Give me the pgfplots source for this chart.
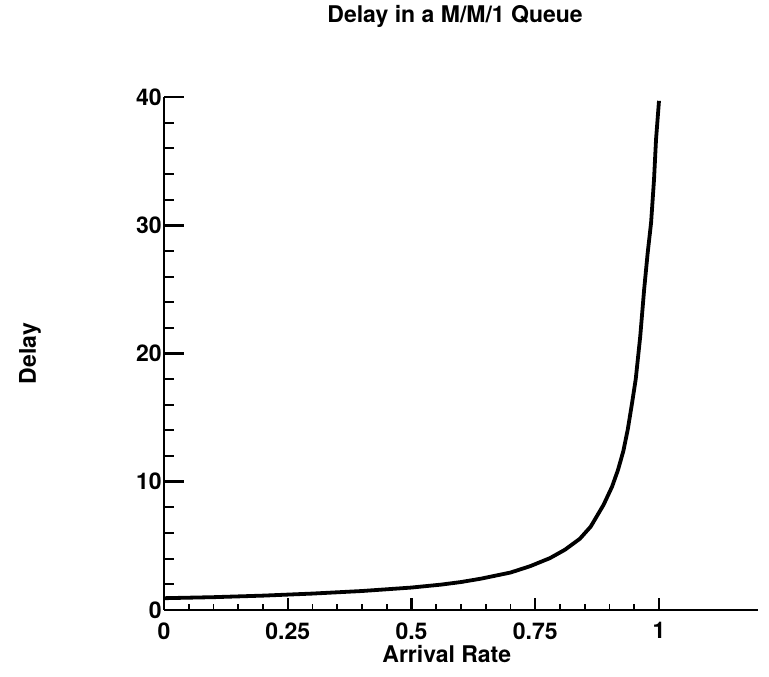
\documentclass[border=0pt]{standalone}
\usepackage{pgfplots}
\pgfplotsset{compat=1.18}
\usepackage{fontspec}
\setmainfont{TeX Gyre Heros}
\begin{document}
\begin{tikzpicture}
\pgfplotsset{
  common/.style={
    scale only axis, width=297pt, height=256.5pt,
    xmin=0, xmax=1.2, ymin=0, ymax=40,
    xtick={0,0.25,0.5,0.75,1},
    ytick={0,10,20,30,40},
    minor x tick num=4, minor y tick num=4,
    /pgf/number format/assume math mode=true,
    every tick/.append style={black},
  }
}
\begin{axis}[common,
  axis x line=bottom, axis y line=left,
  tick align=inside,
  x axis line style={-, line width=1.4pt},
  y axis line style={-, line width=1.4pt},
  major tick length=10pt, minor tick length=5pt,
  xtick style={draw=none},
  ytick style={line width=1.3pt, black},
  minor y tick style={line width=1pt, black},
  xticklabels={0,0.25,0.5,0.75,1},
  yticklabels={0,10,20,30,40},
  xticklabel style={font=\fontsize{11.5}{13}\selectfont\bfseries, anchor=north, inner sep=0pt, yshift=-6pt},
  yticklabel style={font=\fontsize{11.5}{13}\selectfont\bfseries, anchor=east, inner sep=0pt, xshift=-1pt},
  title={Delay in a M/M/1 Queue},
  title style={font=\fontsize{11.5}{13}\selectfont\bfseries, at={(axis description cs:0.49,1)}, anchor=base, yshift=31pt, inner sep=0pt},
  xlabel={Arrival Rate},
  xlabel style={font=\fontsize{11.5}{13}\selectfont\bfseries, at={(axis description cs:0.476,0)}, anchor=north, yshift=-17.5pt, inner sep=0pt},
  ylabel={Delay},
  ylabel style={font=\fontsize{11.5}{13}\selectfont\bfseries, at={(axis description cs:-0.2256,0.5)}, anchor=center, inner sep=0pt},
  clip=false,
]
\addplot[black, line width=1.9pt, line join=round] coordinates {
(0,0.92) (0.1,1.0) (0.2,1.12) (0.3,1.28) (0.4,1.48) (0.5,1.75) (0.56,1.98)
(0.6,2.18) (0.64,2.44) (0.7,2.92) (0.74,3.42) (0.78,4.05) (0.81,4.7)
(0.84,5.55) (0.862,6.5) (0.888,8.2) (0.905,9.6) (0.917,10.9) (0.928,12.4)
(0.937,14.1) (0.945,16) (0.953,18) (0.962,21.3) (0.97,25) (0.977,27.8)
(0.984,30.2) (0.99,33.6) (0.994,36.7) (1.0,39.7)
};
\end{axis}
\begin{axis}[common,
  axis x line=bottom, axis y line=none,
  tick align=inside,
  x axis line style={-, line width=1.4pt},
  major tick length=6pt, minor tick length=2.8pt,
  xtick style={line width=1.1pt, black},
  minor x tick style={line width=0.9pt, black},
  xticklabels={}, yticklabels={},
]
\end{axis}
\path (current axis.south west) ++(-82pt,-33.5pt) rectangle ([xshift=5.5pt,yshift=48.5pt]current axis.north east);
\end{tikzpicture}
\end{document}
